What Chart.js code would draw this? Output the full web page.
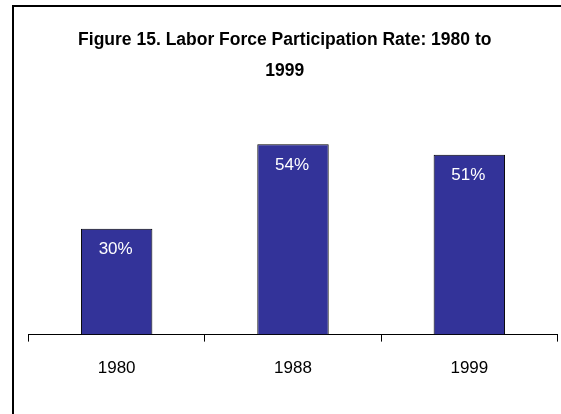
<!DOCTYPE html>
<html>
<head>
<meta charset="utf-8">
<script src="https://cdn.jsdelivr.net/npm/chart.js@4"></script>
<style>
html,body{margin:0;padding:0;background:#fff;}
#wrap{position:relative;width:561px;height:414px;}
</style>
</head>
<body>
<div id="wrap"><canvas id="c" width="561" height="414"></canvas></div>
<script>
const categories = ["1980", "1988", "1999"];
const rates = [30, 54, 51];
const valueLabels = ["30%", "54%", "51%"];
const titleLines = ["Figure 15. Labor Force Participation Rate: 1980 to", "1999"];

const FONT = "'Liberation Sans', Arial, sans-serif";

const framePlugin = {
  id: 'frame',
  beforeDraw(chart) {
    const ctx = chart.ctx;
    ctx.save();
    ctx.fillStyle = '#fff';
    ctx.fillRect(0, 0, chart.width, chart.height);
    ctx.strokeStyle = '#000';
    ctx.lineWidth = 2;
    ctx.beginPath();
    ctx.moveTo(13, chart.height + 5);
    ctx.lineTo(13, 6);
    ctx.lineTo(chart.width + 5, 6);
    ctx.stroke();
    ctx.restore();
  }
};

const labelPlugin = {
  id: 'barLabels',
  afterDatasetsDraw(chart) {
    const ctx = chart.ctx;
    const meta = chart.getDatasetMeta(0);
    ctx.save();
    ctx.fillStyle = '#fff';
    ctx.font = "17px " + FONT;
    ctx.textAlign = 'center';
    ctx.textBaseline = 'middle';
    meta.data.forEach((bar, i) => {
      ctx.fillText(valueLabels[i], bar.x - 1, bar.y + 21);
    });
    ctx.restore();
  }
};

new Chart(document.getElementById('c'), {
  type: 'bar',
  data: {
    labels: categories,
    datasets: [{
      data: rates,
      backgroundColor: '#333399',
      borderColor: '#000',
      borderWidth: 1,
      borderSkipped: 'bottom',
      categoryPercentage: 0.81,
      barPercentage: 0.5
    }]
  },
  options: {
    responsive: false,
    animation: false,
    devicePixelRatio: 1,
    layout: { padding: { left: 12, right: 3.5, top: 0, bottom: 18 } },
    plugins: {
      legend: { display: false },
      tooltip: { enabled: false },
      title: {
        display: true,
        text: titleLines,
        color: '#000',
        font: { family: FONT, size: 17.5, weight: 'bold', lineHeight: 31/17.5 },
        padding: { top: 24.5, bottom: 36.5 }
      }
    },
    scales: {
      x: {
        grid: { display: true, drawOnChartArea: false, offset: true, color: '#000', tickLength: 7, lineWidth: 1 },
        border: { display: true, color: '#000', width: 1 },
        ticks: { color: '#000', font: { family: FONT, size: 17, lineHeight: 1.2 }, padding: 17 }
      },
      y: {
        display: true,
        min: 0,
        max: 60,
        grid: { display: false },
        border: { display: false },
        ticks: { display: false },
        afterFit(scale) { scale.width = 16.5; }
      }
    }
  },
  plugins: [framePlugin, labelPlugin]
});
</script>
</body>
</html>
